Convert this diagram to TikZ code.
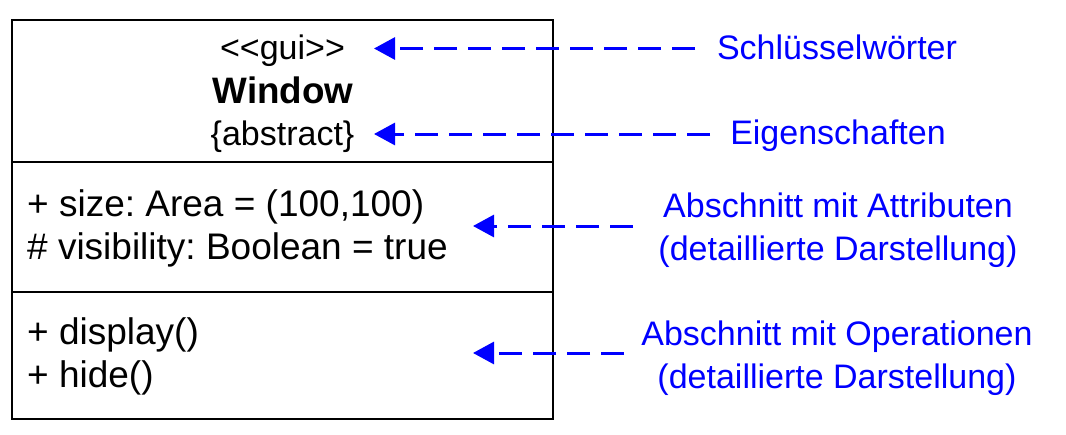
\documentclass[tikz,border=0pt]{standalone}
\usepackage{fontspec}
\setmainfont{Liberation Sans}
\usetikzlibrary{arrows.meta}
\definecolor{lblue}{RGB}{0,0,255}
\frenchspacing
\begin{document}
\begin{tikzpicture}[x=1pt,y=-1pt,
  txt/.style={anchor=base,inner sep=0pt,font=\fontsize{37}{43}\selectfont},
  hdr/.style={anchor=base,inner sep=0pt,font=\fontsize{34}{40}\selectfont},
  lbl/.style={anchor=base,inner sep=0pt,text=lblue,font=\fontsize{34}{43}\selectfont},
  note/.style={draw=lblue,line width=3pt,dash pattern=on 23pt off 11pt,
    -{Triangle[length=21pt,width=22pt]}},
  boxline/.style={draw=black,line width=2.8pt}]
\useasboundingbox (0,0) rectangle (1066,434);
\fill[white] (0,0) rectangle (1066,434);
% class box
\draw[boxline] (12,20) rectangle (553,419);
\draw[boxline] (12,162) -- (553,162);
\draw[boxline] (12,292) -- (553,292);
% header
\node[hdr] (stereo) at (282.5,59) {<{}<gui>{}>};
\node[anchor=base,inner sep=0pt,font=\fontsize{36.8}{40}\selectfont\bfseries] (name) at (283,103) {Window};
\node[hdr] (prop) at (282.5,145) {\{abstract\}};
% attributes
\node[txt,anchor=base west] (a1) at (27,216) {+ size: Area = (100,100)};
\node[txt,anchor=base west] (a2) at (27,259) {\# visibility: Boolean = true};
% operations
\node[txt,anchor=base west] (o1) at (27,344) {+ display()};
\node[txt,anchor=base west] (o2) at (27,387) {+ hide()};
% labels
\node[lbl] (l1) at (837,59) {Schlüsselwörter};
\node[lbl] (l2) at (838,144) {Eigenschaften};
\node[lbl] (l3a) at (838,217) {Abschnitt mit Attributen};
\node[lbl] (l3b) at (838,260) {(detaillierte Darstellung)};
\node[lbl] (l4a) at (837,345) {Abschnitt mit Operationen};
\node[lbl] (l4b) at (837,388) {(detaillierte Darstellung)};
% arrow endpoints
\coordinate (t1) at (695,48.5);  \coordinate (h1) at (374,48.5);
\coordinate (t2) at (710,134);   \coordinate (h2) at (374,134);
\coordinate (t3) at (633,226);   \coordinate (h3) at (473,226);
\coordinate (t4) at (624,353);   \coordinate (h4) at (473,353);
\draw[note] (t1) -- (h1);
\draw[note] (t2) -- (h2);
\draw[note] (t3) -- (h3);
\draw[note] (t4) -- (h4);
\end{tikzpicture}
\end{document}
